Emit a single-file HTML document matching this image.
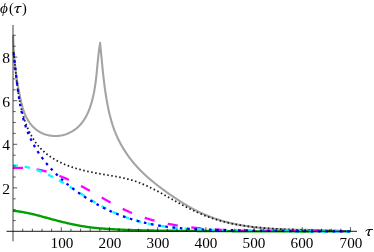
<!DOCTYPE html>
<html><head><meta charset="utf-8"><title>plot</title>
<style>
html,body{margin:0;padding:0;background:#fff;}
body{width:374px;height:252px;position:relative;overflow:hidden;font-family:"Liberation Serif",serif;color:#000;}
.xl,.yl,.t{will-change:transform;}
.xl{position:absolute;top:235.8px;width:40px;text-align:center;font-size:15.2px;line-height:14px;}
.yl{position:absolute;left:-0.4px;width:10px;text-align:right;font-size:15.6px;line-height:14px;}
.t{position:absolute;line-height:16px;white-space:nowrap;transform-origin:0 50%;}
.it{font-style:italic}
</style></head><body>
<svg width="374" height="252" viewBox="0 0 374 252" style="position:absolute;left:0;top:0;filter:blur(0.35px)">
<g fill="none" stroke-linejoin="round">
<path d="M13.19 35.50 L13.21 36.41 L13.22 37.33 L13.24 38.24 L13.27 39.15 L13.29 40.06 L13.32 40.97 L13.35 41.88 L13.38 42.78 L13.42 43.69 L13.46 44.59 L13.50 45.49 L13.54 46.40 L13.59 47.30 L13.63 48.20 L13.69 49.10 L13.74 49.99 L13.80 50.89 L13.86 51.79 L13.92 52.68 L13.98 53.58 L14.05 54.47 L14.12 55.36 L14.19 56.26 L14.26 57.15 L14.34 58.04 L14.42 58.93 L14.50 59.82 L14.59 60.71 L14.67 61.60 L14.76 62.49 L14.85 63.38 L14.95 64.27 L15.05 65.15 L15.15 66.04 L15.25 66.93 L15.35 67.82 L15.46 68.70 L15.57 69.59 L15.68 70.48 L15.79 71.36 L15.91 72.25 L16.03 73.14 L16.15 74.02 L16.27 74.91 L16.40 75.80 L16.53 76.69 L16.66 77.57 L16.79 78.46 L16.93 79.35 L17.07 80.24 L17.21 81.13 L17.35 82.02 L17.50 82.91 L17.65 83.80 L17.80 84.69 L17.95 85.58 L18.10 86.47 L18.26 87.36 L18.42 88.25 L18.58 89.15 L18.75 90.04 L18.91 90.94 L19.08 91.83 L19.25 92.73 L19.43 93.63 L19.60 94.53 L19.78 95.43 L19.96 96.33 L20.14 97.23 L20.33 98.13 L20.52 99.03 L20.71 99.93 L20.91 100.83 L21.11 101.73 L21.32 102.63 L21.54 103.53 L21.76 104.42 L21.99 105.31 L22.23 106.20 L22.48 107.08 L22.73 107.96 L23.00 108.83 L23.27 109.70 L23.56 110.57 L23.86 111.42 L24.17 112.28 L24.49 113.12 L24.83 113.96 L25.18 114.79 L25.54 115.61 L25.92 116.43 L26.32 117.23 L26.73 118.03 L27.16 118.82 L27.60 119.59 L28.06 120.36 L28.53 121.11 L29.03 121.85 L29.53 122.58 L30.06 123.30 L30.60 124.00 L31.16 124.69 L31.73 125.36 L32.32 126.02 L32.92 126.66 L33.55 127.29 L34.18 127.89 L34.84 128.48 L35.50 129.05 L36.19 129.60 L36.89 130.13 L37.61 130.64 L38.34 131.13 L39.09 131.59 L39.85 132.04 L40.63 132.46 L41.42 132.86 L42.23 133.23 L43.05 133.59 L43.88 133.92 L44.72 134.22 L45.57 134.50 L46.44 134.76 L47.31 135.00 L48.18 135.21 L49.07 135.39 L49.96 135.56 L50.85 135.69 L51.75 135.81 L52.65 135.90 L53.56 135.96 L54.46 136.00 L55.37 136.01 L56.28 136.00 L57.18 135.96 L58.09 135.90 L58.99 135.81 L59.89 135.70 L60.78 135.56 L61.67 135.39 L62.55 135.20 L63.43 134.99 L64.30 134.75 L65.17 134.49 L66.02 134.20 L66.87 133.89 L67.71 133.56 L68.54 133.20 L69.36 132.83 L70.17 132.43 L70.97 132.01 L71.76 131.58 L72.54 131.12 L73.30 130.64 L74.05 130.14 L74.79 129.63 L75.51 129.09 L76.22 128.54 L76.91 127.97 L77.59 127.39 L78.26 126.78 L78.90 126.16 L79.53 125.53 L80.14 124.88 L80.74 124.22 L81.31 123.54 L81.88 122.85 L82.42 122.14 L82.95 121.42 L83.47 120.69 L83.97 119.95 L84.45 119.20 L84.92 118.43 L85.38 117.66 L85.82 116.87 L86.25 116.08 L86.67 115.28 L87.07 114.47 L87.46 113.65 L87.84 112.83 L88.21 112.00 L88.56 111.16 L88.91 110.31 L89.24 109.47 L89.56 108.61 L89.88 107.76 L90.18 106.89 L90.47 106.03 L90.76 105.16 L91.03 104.29 L91.30 103.42 L91.56 102.55 L91.81 101.68 L92.05 100.80 L92.28 99.93 L92.51 99.05 L92.73 98.17 L92.94 97.29 L93.15 96.40 L93.34 95.52 L93.53 94.64 L93.72 93.75 L93.90 92.86 L94.07 91.97 L94.24 91.09 L94.40 90.20 L94.56 89.30 L94.71 88.41 L94.85 87.52 L94.99 86.63 L95.13 85.73 L95.26 84.84 L95.39 83.94 L95.51 83.04 L95.63 82.15 L95.75 81.25 L95.86 80.35 L95.97 79.45 L96.07 78.55 L96.18 77.65 L96.28 76.76 L96.38 75.86 L96.47 74.96 L96.57 74.06 L96.66 73.15 L96.75 72.25 L96.84 71.35 L96.93 70.45 L97.02 69.55 L97.10 68.65 L97.19 67.75 L97.27 66.85 L97.36 65.95 L97.44 65.05 L97.53 64.15 L97.61 63.26 L97.70 62.36 L97.79 61.46 L97.87 60.56 L97.96 59.66 L98.05 58.77 L98.14 57.87 L98.24 56.98 L98.33 56.08 L98.43 55.19 L98.53 54.30 L98.63 53.41 L98.74 52.51 L98.85 51.62 L98.96 50.74 L99.07 49.85 L99.19 48.96 L99.31 48.07 L99.44 47.19 L99.57 46.31 L99.71 45.42 L99.85 44.54 L99.99 43.66 L100.14 42.79 L100.06 42.74 L100.15 43.64 L100.25 44.54 L100.34 45.45 L100.43 46.35 L100.51 47.25 L100.60 48.16 L100.69 49.06 L100.78 49.97 L100.87 50.87 L100.95 51.77 L101.04 52.68 L101.13 53.58 L101.21 54.49 L101.30 55.39 L101.38 56.30 L101.47 57.20 L101.56 58.11 L101.64 59.01 L101.73 59.92 L101.82 60.82 L101.90 61.73 L101.99 62.63 L102.08 63.54 L102.17 64.45 L102.25 65.35 L102.34 66.26 L102.43 67.16 L102.53 68.07 L102.62 68.97 L102.71 69.88 L102.80 70.79 L102.90 71.69 L102.99 72.60 L103.09 73.50 L103.19 74.41 L103.29 75.32 L103.39 76.22 L103.49 77.13 L103.59 78.04 L103.69 78.94 L103.80 79.85 L103.91 80.75 L104.02 81.66 L104.13 82.57 L104.24 83.47 L104.35 84.38 L104.47 85.28 L104.59 86.19 L104.71 87.10 L104.83 88.00 L104.95 88.91 L105.08 89.81 L105.21 90.72 L105.34 91.63 L105.47 92.53 L105.61 93.44 L105.75 94.34 L105.89 95.25 L106.03 96.15 L106.18 97.06 L106.32 97.96 L106.48 98.87 L106.63 99.78 L106.79 100.68 L106.95 101.59 L107.11 102.49 L107.28 103.39 L107.44 104.30 L107.62 105.20 L107.79 106.10 L107.97 107.01 L108.16 107.91 L108.35 108.81 L108.54 109.71 L108.73 110.60 L108.94 111.50 L109.14 112.40 L109.35 113.29 L109.56 114.18 L109.78 115.07 L110.00 115.96 L110.23 116.85 L110.46 117.74 L110.70 118.62 L110.94 119.51 L111.19 120.39 L111.44 121.26 L111.70 122.14 L111.97 123.01 L112.24 123.89 L112.51 124.76 L112.80 125.62 L113.08 126.49 L113.38 127.35 L113.68 128.21 L113.99 129.06 L114.30 129.91 L114.62 130.76 L114.94 131.61 L115.28 132.45 L115.62 133.29 L115.96 134.13 L116.32 134.96 L116.68 135.79 L117.05 136.62 L117.42 137.44 L117.80 138.26 L118.19 139.08 L118.59 139.89 L118.99 140.70 L119.40 141.50 L119.81 142.30 L120.23 143.10 L120.66 143.90 L121.09 144.69 L121.53 145.47 L121.98 146.26 L122.43 147.04 L122.89 147.81 L123.36 148.58 L123.83 149.35 L124.31 150.11 L124.79 150.87 L125.28 151.63 L125.78 152.38 L126.28 153.13 L126.79 153.88 L127.30 154.62 L127.82 155.36 L128.34 156.09 L128.87 156.82 L129.41 157.54 L129.95 158.26 L130.50 158.98 L131.05 159.69 L131.61 160.40 L132.17 161.11 L132.74 161.81 L133.31 162.51 L133.89 163.20 L134.48 163.89 L135.07 164.57 L135.66 165.25 L136.26 165.93 L136.86 166.60 L137.47 167.27 L138.08 167.93 L138.70 168.59 L139.33 169.24 L139.95 169.89 L140.59 170.54 L141.22 171.18 L141.87 171.82 L142.51 172.45 L143.16 173.08 L143.82 173.70 L144.47 174.32 L145.14 174.94 L145.80 175.55 L146.47 176.16 L147.15 176.77 L147.83 177.37 L148.51 177.97 L149.19 178.56 L149.88 179.15 L150.57 179.74 L151.26 180.33 L151.96 180.91 L152.66 181.49 L153.36 182.06 L154.07 182.64 L154.78 183.21 L155.49 183.77 L156.20 184.34 L156.92 184.90 L157.64 185.46 L158.36 186.02 L159.08 186.57 L159.80 187.12 L160.53 187.67 L161.26 188.22 L161.99 188.76 L162.72 189.31 L163.45 189.85 L164.19 190.39 L164.92 190.92 L165.66 191.46 L166.40 191.99 L167.14 192.53 L167.88 193.05 L168.62 193.58 L169.36 194.11 L170.11 194.63 L170.85 195.15 L171.60 195.67 L172.35 196.19 L173.10 196.71 L173.85 197.22 L174.60 197.73 L175.36 198.23 L176.11 198.74 L176.87 199.24 L177.63 199.74 L178.39 200.24 L179.15 200.73 L179.91 201.22 L180.68 201.71 L181.45 202.19 L182.22 202.67 L182.99 203.15 L183.76 203.62 L184.53 204.09 L185.31 204.56 L186.09 205.02 L186.87 205.48 L187.65 205.94 L188.44 206.39 L189.22 206.84 L190.01 207.28 L190.80 207.72 L191.59 208.16 L192.39 208.59 L193.19 209.02 L193.98 209.44 L194.79 209.86 L195.59 210.27 L196.40 210.68 L197.20 211.09 L198.01 211.49 L198.83 211.88 L199.64 212.28 L200.46 212.66 L201.28 213.04 L202.10 213.42 L202.93 213.79 L203.76 214.16 L204.59 214.52 L205.42 214.87 L206.26 215.22 L207.10 215.57 L207.94 215.91 L208.78 216.24 L209.62 216.57 L210.47 216.90 L211.32 217.22 L212.17 217.53 L213.03 217.84 L213.88 218.15 L214.74 218.44 L215.60 218.74 L216.46 219.03 L217.33 219.31 L218.19 219.59 L219.06 219.87 L219.93 220.14 L220.80 220.40 L221.67 220.66 L222.54 220.92 L223.42 221.17 L224.29 221.42 L225.17 221.66 L226.05 221.89 L226.93 222.13 L227.81 222.35 L228.69 222.58 L229.58 222.79 L230.46 223.01 L231.35 223.22 L232.23 223.42 L233.12 223.62 L234.01 223.82 L234.90 224.01 L235.79 224.20 L236.68 224.38 L237.57 224.56 L238.46 224.73 L239.35 224.90 L240.24 225.07 L241.14 225.23 L242.03 225.39 L242.93 225.55 L243.82 225.70 L244.72 225.85 L245.62 225.99 L246.52 226.13 L247.42 226.27 L248.32 226.40 L249.22 226.53 L250.12 226.65 L251.02 226.78 L251.92 226.90 L252.82 227.01 L253.73 227.12 L254.63 227.23 L255.54 227.34 L256.44 227.44 L257.35 227.54 L258.25 227.64 L259.16 227.73 L260.07 227.83 L260.97 227.91 L261.88 228.00 L262.79 228.08 L263.70 228.16 L264.61 228.24 L265.52 228.32 L266.43 228.39 L267.34 228.46 L268.25 228.53 L269.16 228.59 L270.07 228.66 L270.99 228.72 L271.90 228.78 L272.81 228.83 L273.72 228.89 L274.64 228.94 L275.55 228.99 L276.46 229.04 L277.38 229.09 L278.29 229.13 L279.21 229.17 L280.12 229.22 L281.04 229.26 L281.95 229.29 L282.87 229.33 L283.78 229.37 L284.70 229.40 L285.62 229.43 L286.53 229.46 L287.45 229.49 L288.37 229.52 L289.28 229.55 L290.20 229.57 L291.11 229.60 L292.03 229.62 L292.95 229.65 L293.87 229.67 L294.78 229.69 L295.70 229.71 L296.62 229.73 L297.53 229.75 L298.45 229.77 L299.37 229.78 L300.28 229.80 L301.20 229.82 L302.12 229.83 L303.03 229.85 L303.95 229.86 L304.87 229.88 L305.78 229.89 L306.70 229.91 L307.61 229.92 L308.53 229.94 L309.45 229.95 L310.36 229.96 L311.28 229.98 L312.19 229.99 L313.11 230.01 L314.02 230.02 L314.94 230.04 L315.85 230.05 L316.76 230.07 L317.68 230.09 L318.59 230.10 L319.51 230.12 L320.42 230.14 L321.33 230.16 L322.24 230.17 L323.15 230.19 L324.07 230.22 L324.98 230.24 L325.89 230.26 L326.80 230.28 L327.71 230.31 L328.62 230.33 L329.53 230.36 L330.44 230.39 L331.34 230.42 L332.25 230.45 L333.16 230.48 L334.06 230.51 L334.97 230.55 L335.88 230.58 L336.78 230.62 L337.69 230.66 L338.59 230.70 L339.49 230.74 L340.40 230.78 L341.30 230.83 L342.20 230.88 L343.10 230.93 L344.00 230.98 L344.90 231.03 L345.80 231.09 L346.70 231.15 L347.60 231.21 L348.49 231.27 L349.39 231.33 L350.29 231.40" stroke="#a4a4a4" stroke-width="2.1"/>
<path d="M13.14 210.87 L13.99 210.94 L14.84 211.02 L15.68 211.10 L16.53 211.19 L17.37 211.29 L18.21 211.40 L19.05 211.51 L19.89 211.63 L20.73 211.76 L21.57 211.89 L22.41 212.03 L23.24 212.17 L24.07 212.32 L24.91 212.47 L25.74 212.63 L26.57 212.79 L27.40 212.96 L28.23 213.14 L29.06 213.31 L29.89 213.50 L30.72 213.68 L31.54 213.87 L32.37 214.07 L33.20 214.26 L34.02 214.46 L34.84 214.67 L35.67 214.87 L36.49 215.08 L37.32 215.29 L38.14 215.50 L38.96 215.72 L39.78 215.94 L40.61 216.16 L41.43 216.38 L42.25 216.60 L43.07 216.82 L43.89 217.05 L44.71 217.27 L45.53 217.50 L46.35 217.72 L47.18 217.95 L48.00 218.17 L48.82 218.40 L49.64 218.63 L50.46 218.85 L51.28 219.07 L52.10 219.30 L52.93 219.52 L53.75 219.74 L54.57 219.96 L55.39 220.18 L56.22 220.39 L57.04 220.61 L57.86 220.82 L58.69 221.03 L59.51 221.24 L60.34 221.45 L61.16 221.66 L61.99 221.86 L62.81 222.07 L63.64 222.27 L64.47 222.47 L65.29 222.66 L66.12 222.86 L66.95 223.05 L67.78 223.24 L68.61 223.43 L69.44 223.62 L70.27 223.80 L71.10 223.98 L71.93 224.16 L72.76 224.34 L73.59 224.51 L74.42 224.68 L75.25 224.85 L76.08 225.02 L76.92 225.18 L77.75 225.34 L78.58 225.50 L79.42 225.65 L80.25 225.80 L81.09 225.95 L81.92 226.09 L82.76 226.23 L83.60 226.37 L84.43 226.51 L85.27 226.64 L86.11 226.77 L86.95 226.89 L87.79 227.01 L88.63 227.13 L89.47 227.24 L90.31 227.35 L91.15 227.46 L91.99 227.56 L92.84 227.66 L93.68 227.76 L94.52 227.85 L95.37 227.94 L96.21 228.02 L97.06 228.11 L97.90 228.19 L98.75 228.26 L99.60 228.34 L100.44 228.41 L101.29 228.48 L102.14 228.54 L102.98 228.61 L103.83 228.67 L104.68 228.73 L105.53 228.79 L106.38 228.85 L107.23 228.90 L108.07 228.96 L108.92 229.01 L109.77 229.06 L110.62 229.11 L111.47 229.15 L112.32 229.20 L113.17 229.25 L114.02 229.29 L114.87 229.34 L115.72 229.38 L116.57 229.42 L117.42 229.46 L118.27 229.50 L119.12 229.54 L119.97 229.58 L120.82 229.62 L121.67 229.66 L122.52 229.69 L123.37 229.73 L124.22 229.76 L125.07 229.80 L125.92 229.83 L126.77 229.86 L127.62 229.89 L128.47 229.92 L129.32 229.95 L130.17 229.98 L131.02 230.01 L131.87 230.04 L132.72 230.06 L133.57 230.09 L134.42 230.11 L135.27 230.14 L136.12 230.16 L136.97 230.19 L137.82 230.21 L138.67 230.23 L139.52 230.25 L140.37 230.27 L141.22 230.29 L142.07 230.31 L142.92 230.33 L143.77 230.35 L144.62 230.37 L145.47 230.39 L146.32 230.41 L147.17 230.42 L148.03 230.44 L148.88 230.45 L149.73 230.47 L150.58 230.48 L151.43 230.50 L152.28 230.51 L153.13 230.53 L153.98 230.54 L154.83 230.55 L155.68 230.57 L156.53 230.58 L157.38 230.59 L158.23 230.60 L159.09 230.61 L159.94 230.62 L160.79 230.63 L161.64 230.64 L162.49 230.65 L163.34 230.66 L164.19 230.67 L165.04 230.68 L165.89 230.69 L166.74 230.70 L167.59 230.71 L168.44 230.72 L169.29 230.72 L170.15 230.73 L171.00 230.74 L171.85 230.75 L172.70 230.76 L173.55 230.76 L174.40 230.77 L175.25 230.78 L176.10 230.78 L176.95 230.79 L177.80 230.80 L178.65 230.81 L179.50 230.81 L180.35 230.82 L181.20 230.83 L182.06 230.83 L182.91 230.84 L183.76 230.85 L184.61 230.85 L185.46 230.86 L186.31 230.87 L187.16 230.87 L188.01 230.88 L188.86 230.89 L189.71 230.90 L190.56 230.90 L191.41 230.91 L192.26 230.92 L193.11 230.92 L193.96 230.93 L194.81 230.94 L195.66 230.94 L196.51 230.95 L197.36 230.96 L198.21 230.96 L199.06 230.97 L199.92 230.98 L200.77 230.98 L201.62 230.99 L202.47 231.00 L203.32 231.00 L204.17 231.01 L205.02 231.01 L205.87 231.02 L206.72 231.03 L207.57 231.03 L208.42 231.04 L209.27 231.05 L210.12 231.05 L210.97 231.06 L211.82 231.07 L212.67 231.07 L213.52 231.08 L214.37 231.08 L215.22 231.09 L216.07 231.10 L216.92 231.10 L217.77 231.11 L218.62 231.11 L219.47 231.12 L220.32 231.13 L221.17 231.13 L222.02 231.14 L222.87 231.14 L223.72 231.15 L224.57 231.15 L225.42 231.16 L226.27 231.17 L227.12 231.17 L227.97 231.18 L228.82 231.18 L229.67 231.19 L230.52 231.19 L231.37 231.20 L232.22 231.20 L233.07 231.21 L233.92 231.21 L234.77 231.22 L235.62 231.22 L236.47 231.23 L237.32 231.24 L238.17 231.24 L239.02 231.25 L239.87 231.25 L240.72 231.25 L241.57 231.26 L242.42 231.26 L243.27 231.27 L244.12 231.27 L244.97 231.28 L245.82 231.28 L246.67 231.29 L247.52 231.29 L248.37 231.30 L249.22 231.30 L250.07 231.31 L250.92 231.31 L251.77 231.31 L252.62 231.32 L253.47 231.32 L254.32 231.33 L255.17 231.33 L256.02 231.33 L256.87 231.34 L257.72 231.34 L258.57 231.35 L259.42 231.35 L260.27 231.35 L261.12 231.36 L261.97 231.36 L262.82 231.36 L263.67 231.37 L264.52 231.37 L265.37 231.37 L266.22 231.38 L267.07 231.38 L267.92 231.38 L268.77 231.39 L269.62 231.39 L270.47 231.39 L271.32 231.40 L272.17 231.40 L273.02 231.40 L273.87 231.40 L274.72 231.41 L275.57 231.41 L276.42 231.41 L277.27 231.41 L278.12 231.42 L278.97 231.42 L279.82 231.42 L280.67 231.42 L281.52 231.42 L282.37 231.43 L283.22 231.43 L284.07 231.43 L284.92 231.43 L285.77 231.43 L286.62 231.43 L287.47 231.44 L288.32 231.44 L289.17 231.44 L290.02 231.44 L290.87 231.44 L291.72 231.44 L292.57 231.44 L293.42 231.44 L294.27 231.45 L295.12 231.45 L295.97 231.45 L296.82 231.45 L297.67 231.45 L298.52 231.45 L299.37 231.45 L300.22 231.45 L301.07 231.45 L301.92 231.45 L302.77 231.45 L303.62 231.45 L304.47 231.45 L305.32 231.45 L306.17 231.45 L307.02 231.45 L307.87 231.45 L308.73 231.45 L309.58 231.45 L310.43 231.45 L311.28 231.45 L312.13 231.45 L312.98 231.44 L313.83 231.44 L314.68 231.44 L315.53 231.44 L316.38 231.44 L317.23 231.44 L318.08 231.44 L318.93 231.43 L319.78 231.43 L320.63 231.43 L321.48 231.43 L322.33 231.43 L323.18 231.43 L324.03 231.42 L324.88 231.42 L325.73 231.42 L326.58 231.42 L327.43 231.41 L328.28 231.41 L329.14 231.41 L329.99 231.40 L330.84 231.40 L331.69 231.40 L332.54 231.40 L333.39 231.39 L334.24 231.39 L335.09 231.39 L335.94 231.38 L336.79 231.38 L337.64 231.37 L338.49 231.37 L339.34 231.37 L340.19 231.36 L341.05 231.36 L341.90 231.35 L342.75 231.35 L343.60 231.34 L344.45 231.34 L345.30 231.34 L346.15 231.33 L347.00 231.33 L347.85 231.32 L348.70 231.31 L349.55 231.31 L350.41 231.30" stroke="#00a000" stroke-width="2.35"/>
<path d="M13.30 50.09 L13.38 50.79 L13.47 51.49 L13.55 52.20 L13.63 52.90 L13.71 53.61 L13.79 54.31 L13.87 55.02 L13.94 55.73 L14.02 56.44 L14.10 57.15 L14.17 57.86 L14.25 58.57 L14.32 59.28 L14.40 59.99 L14.47 60.70 L14.54 61.42 L14.62 62.13 L14.69 62.84 L14.76 63.56 L14.84 64.27 L14.91 64.99 L14.98 65.71 L15.05 66.42 L15.13 67.14 L15.20 67.86 L15.27 68.58 L15.34 69.30 L15.42 70.01 L15.49 70.73 L15.57 71.45 L15.64 72.17 L15.72 72.89 L15.79 73.61 L15.87 74.33 L15.94 75.05 L16.02 75.77 L16.10 76.49 L16.18 77.21 L16.26 77.93 L16.34 78.65 L16.42 79.37 L16.51 80.09 L16.59 80.81 L16.68 81.53 L16.76 82.25 L16.85 82.97 L16.94 83.69 L17.03 84.41 L17.12 85.13 L17.21 85.85 L17.31 86.57 L17.40 87.29 L17.50 88.01 L17.60 88.73 L17.70 89.44 L17.81 90.16 L17.91 90.88 L18.02 91.59 L18.13 92.31 L18.24 93.03 L18.35 93.74 L18.46 94.46 L18.58 95.17 L18.70 95.88 L18.82 96.60 L18.94 97.31 L19.07 98.02 L19.20 98.73 L19.33 99.44 L19.46 100.15 L19.60 100.86 L19.74 101.57 L19.88 102.27 L20.02 102.98 L20.17 103.68 L20.32 104.39 L20.47 105.09 L20.62 105.80 L20.78 106.50 L20.94 107.20 L21.11 107.90 L21.27 108.60 L21.44 109.29 L21.62 109.99 L21.79 110.69 L21.98 111.38 L22.16 112.07 L22.35 112.77 L22.54 113.46 L22.73 114.15 L22.93 114.83 L23.13 115.52 L23.34 116.21 L23.54 116.89 L23.76 117.58 L23.97 118.26 L24.19 118.94 L24.42 119.62 L24.65 120.29 L24.88 120.97 L25.12 121.64 L25.36 122.32 L25.60 122.99 L25.85 123.66 L26.11 124.32 L26.37 124.99 L26.63 125.65 L26.90 126.31 L27.17 126.97 L27.44 127.62 L27.73 128.28 L28.01 128.93 L28.30 129.58 L28.60 130.22 L28.90 130.86 L29.21 131.50 L29.52 132.14 L29.84 132.77 L30.16 133.40 L30.48 134.03 L30.82 134.65 L31.16 135.27 L31.50 135.88 L31.85 136.50 L32.20 137.11 L32.56 137.71 L32.93 138.31 L33.30 138.91 L33.68 139.50 L34.06 140.09 L34.45 140.67 L34.84 141.25 L35.25 141.83 L35.65 142.40 L36.07 142.97 L36.49 143.53 L36.91 144.09 L37.34 144.64 L37.78 145.19 L38.23 145.73 L38.68 146.26 L39.14 146.79 L39.60 147.32 L40.07 147.84 L40.55 148.35 L41.03 148.86 L41.52 149.36 L42.01 149.86 L42.51 150.34 L43.02 150.83 L43.53 151.30 L44.05 151.77 L44.58 152.24 L45.11 152.69 L45.65 153.15 L46.19 153.59 L46.74 154.03 L47.29 154.46 L47.85 154.89 L48.42 155.31 L48.99 155.73 L49.56 156.14 L50.14 156.54 L50.73 156.94 L51.32 157.33 L51.91 157.72 L52.51 158.10 L53.11 158.47 L53.72 158.84 L54.33 159.21 L54.94 159.57 L55.56 159.92 L56.19 160.27 L56.82 160.61 L57.45 160.95 L58.08 161.28 L58.72 161.61 L59.36 161.93 L60.01 162.25 L60.65 162.56 L61.31 162.87 L61.96 163.17 L62.62 163.47 L63.28 163.77 L63.94 164.05 L64.61 164.34 L65.28 164.61 L65.95 164.89 L66.62 165.16 L67.29 165.42 L67.97 165.68 L68.65 165.94 L69.33 166.19 L70.02 166.44 L70.70 166.68 L71.39 166.92 L72.08 167.15 L72.77 167.38 L73.46 167.61 L74.15 167.83 L74.84 168.05 L75.54 168.26 L76.23 168.47 L76.93 168.67 L77.63 168.88 L78.32 169.07 L79.02 169.27 L79.72 169.46 L80.42 169.64 L81.12 169.83 L81.82 170.01 L82.52 170.18 L83.22 170.36 L83.92 170.53 L84.63 170.69 L85.33 170.86 L86.03 171.02 L86.74 171.18 L87.44 171.33 L88.15 171.49 L88.85 171.64 L89.56 171.78 L90.26 171.93 L90.97 172.07 L91.67 172.22 L92.38 172.36 L93.09 172.49 L93.79 172.63 L94.50 172.77 L95.21 172.90 L95.92 173.03 L96.63 173.16 L97.33 173.29 L98.04 173.42 L98.75 173.54 L99.46 173.67 L100.17 173.80 L100.88 173.92 L101.59 174.04 L102.30 174.17 L103.01 174.29 L103.72 174.41 L104.43 174.53 L105.14 174.65 L105.85 174.77 L106.56 174.89 L107.27 175.01 L107.98 175.14 L108.69 175.26 L109.40 175.38 L110.11 175.50 L110.81 175.62 L111.52 175.75 L112.23 175.87 L112.94 176.00 L113.65 176.12 L114.36 176.25 L115.07 176.38 L115.78 176.51 L116.49 176.64 L117.20 176.77 L117.91 176.91 L118.61 177.04 L119.32 177.18 L120.03 177.32 L120.74 177.46 L121.44 177.61 L122.15 177.75 L122.85 177.90 L123.55 178.06 L124.26 178.21 L124.96 178.37 L125.66 178.54 L126.36 178.70 L127.06 178.87 L127.75 179.05 L128.45 179.22 L129.14 179.41 L129.84 179.59 L130.53 179.78 L131.22 179.98 L131.91 180.18 L132.60 180.38 L133.28 180.59 L133.97 180.81 L134.65 181.03 L135.33 181.25 L136.01 181.49 L136.68 181.72 L137.36 181.96 L138.03 182.21 L138.70 182.46 L139.38 182.72 L140.04 182.98 L140.71 183.24 L141.38 183.51 L142.04 183.79 L142.70 184.07 L143.36 184.35 L144.02 184.63 L144.68 184.92 L145.34 185.22 L145.99 185.51 L146.65 185.81 L147.30 186.12 L147.95 186.42 L148.60 186.73 L149.25 187.04 L149.90 187.36 L150.55 187.67 L151.19 187.99 L151.84 188.31 L152.48 188.64 L153.13 188.96 L153.77 189.29 L154.41 189.62 L155.05 189.95 L155.69 190.29 L156.33 190.62 L156.96 190.96 L157.60 191.29 L158.24 191.63 L158.87 191.97 L159.51 192.31 L160.14 192.66 L160.77 193.00 L161.41 193.34 L162.04 193.69 L162.67 194.04 L163.30 194.38 L163.93 194.73 L164.56 195.08 L165.19 195.43 L165.82 195.78 L166.45 196.13 L167.08 196.48 L167.71 196.83 L168.34 197.19 L168.97 197.54 L169.60 197.89 L170.23 198.24 L170.85 198.59 L171.48 198.95 L172.11 199.30 L172.74 199.65 L173.37 200.00 L174.00 200.35 L174.63 200.70 L175.26 201.05 L175.89 201.40 L176.51 201.75 L177.14 202.10 L177.77 202.45 L178.41 202.80 L179.04 203.14 L179.67 203.49 L180.30 203.83 L180.93 204.18 L181.57 204.52 L182.20 204.86 L182.83 205.20 L183.47 205.54 L184.10 205.88 L184.74 206.22 L185.38 206.55 L186.01 206.88 L186.65 207.21 L187.29 207.54 L187.93 207.87 L188.57 208.20 L189.22 208.52 L189.86 208.84 L190.50 209.16 L191.15 209.48 L191.79 209.80 L192.44 210.11 L193.09 210.42 L193.74 210.73 L194.39 211.04 L195.04 211.34 L195.70 211.65 L196.35 211.94 L197.01 212.24 L197.67 212.53 L198.32 212.83 L198.98 213.11 L199.64 213.40 L200.31 213.68 L200.97 213.96 L201.64 214.24 L202.30 214.52 L202.97 214.79 L203.64 215.06 L204.31 215.33 L204.98 215.59 L205.65 215.85 L206.32 216.11 L207.00 216.37 L207.67 216.62 L208.35 216.87 L209.02 217.12 L209.70 217.36 L210.38 217.60 L211.06 217.84 L211.74 218.08 L212.42 218.31 L213.11 218.54 L213.79 218.77 L214.48 218.99 L215.16 219.22 L215.85 219.44 L216.54 219.65 L217.23 219.86 L217.92 220.07 L218.61 220.28 L219.30 220.49 L219.99 220.69 L220.68 220.89 L221.38 221.08 L222.07 221.27 L222.77 221.46 L223.46 221.65 L224.16 221.83 L224.86 222.01 L225.55 222.19 L226.25 222.36 L226.95 222.53 L227.65 222.70 L228.35 222.87 L229.06 223.03 L229.76 223.19 L230.46 223.34 L231.17 223.49 L231.87 223.64 L232.57 223.79 L233.28 223.93 L233.99 224.07 L234.69 224.21 L235.40 224.34 L236.11 224.47 L236.82 224.60 L237.52 224.72 L238.23 224.85 L238.94 224.97 L239.65 225.08 L240.36 225.20 L241.07 225.31 L241.79 225.42 L242.50 225.53 L243.21 225.64 L243.92 225.74 L244.64 225.84 L245.35 225.94 L246.06 226.04 L246.78 226.13 L247.49 226.22 L248.21 226.32 L248.92 226.41 L249.63 226.49 L250.35 226.58 L251.07 226.66 L251.78 226.75 L252.50 226.83 L253.21 226.91 L253.93 226.98 L254.65 227.06 L255.36 227.14 L256.08 227.21 L256.80 227.28 L257.51 227.35 L258.23 227.43 L258.95 227.49 L259.67 227.56 L260.38 227.63 L261.10 227.70 L261.82 227.76 L262.54 227.83 L263.25 227.89 L263.97 227.95 L264.69 228.01 L265.41 228.07 L266.13 228.13 L266.84 228.19 L267.56 228.24 L268.28 228.30 L269.00 228.35 L269.72 228.41 L270.44 228.46 L271.15 228.51 L271.87 228.57 L272.59 228.62 L273.31 228.66 L274.03 228.71 L274.75 228.76 L275.47 228.81 L276.19 228.85 L276.91 228.90 L277.63 228.94 L278.35 228.99 L279.07 229.03 L279.79 229.07 L280.51 229.11 L281.22 229.15 L281.94 229.19 L282.66 229.23 L283.38 229.27 L284.10 229.30 L284.82 229.34 L285.54 229.38 L286.26 229.41 L286.98 229.45 L287.70 229.48 L288.42 229.51 L289.15 229.55 L289.87 229.58 L290.59 229.61 L291.31 229.64 L292.03 229.67 L292.75 229.70 L293.47 229.73 L294.19 229.76 L294.91 229.78 L295.63 229.81 L296.35 229.84 L297.07 229.86 L297.79 229.89 L298.51 229.91 L299.23 229.94 L299.95 229.96 L300.68 229.99 L301.40 230.01 L302.12 230.03 L302.84 230.06 L303.56 230.08 L304.28 230.10 L305.00 230.12 L305.72 230.14 L306.44 230.16 L307.16 230.18 L307.88 230.20 L308.61 230.22 L309.33 230.24 L310.05 230.26 L310.77 230.28 L311.49 230.30 L312.21 230.31 L312.93 230.33 L313.65 230.35 L314.37 230.37 L315.09 230.38 L315.82 230.40 L316.54 230.42 L317.26 230.43 L317.98 230.45 L318.70 230.47 L319.42 230.48 L320.14 230.50 L320.86 230.51 L321.58 230.53 L322.30 230.54 L323.03 230.56 L323.75 230.57 L324.47 230.59 L325.19 230.60 L325.91 230.62 L326.63 230.63 L327.35 230.65 L328.07 230.66 L328.79 230.68 L329.51 230.69 L330.23 230.71 L330.95 230.72 L331.67 230.74 L332.39 230.75 L333.11 230.77 L333.83 230.78 L334.56 230.80 L335.28 230.81 L336.00 230.83 L336.72 230.84 L337.44 230.86 L338.16 230.87 L338.88 230.89 L339.60 230.91 L340.32 230.92 L341.04 230.94 L341.76 230.96 L342.48 230.97 L343.20 230.99 L343.92 231.01 L344.64 231.02 L345.36 231.04 L346.07 231.06 L346.79 231.08 L347.51 231.10 L348.23 231.11 L348.95 231.13 L349.67 231.15 L350.39 231.17" stroke="#1a1a1a" stroke-width="1.75" stroke-dasharray="1.55 2.52" stroke-dashoffset="2.2"/>
<path d="M12.89 168.08 L13.62 168.03 L14.35 167.98 L15.08 167.94 L15.81 167.91 L16.53 167.89 L17.26 167.86 L17.98 167.85 L18.70 167.84 L19.42 167.83 L20.14 167.84 L20.86 167.84 L21.57 167.85 L22.29 167.87 L23.00 167.90 L23.71 167.92 L24.42 167.96 L25.13 168.00 L25.84 168.04 L26.54 168.09 L27.25 168.14 L27.95 168.20 L28.65 168.27 L29.35 168.34 L30.05 168.41 L30.75 168.49 L31.45 168.58 L32.14 168.66 L32.84 168.76 L33.53 168.86 L34.22 168.96 L34.91 169.07 L35.60 169.18 L36.29 169.30 L36.98 169.42 L37.66 169.55 L38.35 169.68 L39.03 169.81 L39.71 169.95 L40.39 170.09 L41.07 170.24 L41.75 170.39 L42.43 170.55 L43.10 170.71 L43.78 170.88 L44.45 171.04 L45.12 171.22 L45.79 171.39 L46.46 171.57 L47.13 171.76 L47.80 171.95 L48.47 172.14 L49.13 172.34 L49.80 172.54 L50.46 172.74 L51.12 172.95 L51.78 173.16 L52.44 173.37 L53.10 173.59 L53.76 173.81 L54.42 174.04 L55.07 174.26 L55.73 174.50 L56.38 174.73 L57.03 174.97 L57.68 175.21 L58.34 175.45 L58.98 175.70 L59.63 175.95 L60.28 176.21 L60.93 176.46 L61.57 176.72 L62.22 176.99 L62.86 177.25 L63.50 177.52 L64.14 177.79 L64.79 178.07 L65.42 178.35 L66.06 178.63 L66.70 178.91 L67.34 179.19 L67.97 179.48 L68.61 179.77 L69.24 180.06 L69.88 180.36 L70.51 180.66 L71.14 180.96 L71.77 181.26 L72.40 181.56 L73.03 181.87 L73.66 182.18 L74.28 182.49 L74.91 182.80 L75.54 183.12 L76.16 183.43 L76.79 183.75 L77.41 184.07 L78.03 184.39 L78.66 184.72 L79.28 185.04 L79.90 185.37 L80.52 185.70 L81.14 186.03 L81.76 186.36 L82.38 186.69 L83.00 187.03 L83.61 187.36 L84.23 187.70 L84.85 188.04 L85.47 188.38 L86.08 188.72 L86.70 189.06 L87.32 189.40 L87.93 189.74 L88.55 190.09 L89.16 190.43 L89.77 190.77 L90.39 191.12 L91.00 191.47 L91.62 191.81 L92.23 192.16 L92.84 192.51 L93.46 192.86 L94.07 193.21 L94.68 193.56 L95.30 193.91 L95.91 194.26 L96.52 194.61 L97.13 194.96 L97.75 195.31 L98.36 195.66 L98.97 196.01 L99.58 196.35 L100.20 196.70 L100.81 197.05 L101.42 197.40 L102.04 197.75 L102.65 198.10 L103.26 198.45 L103.88 198.80 L104.49 199.14 L105.10 199.49 L105.72 199.83 L106.33 200.18 L106.95 200.52 L107.56 200.87 L108.18 201.21 L108.79 201.55 L109.41 201.89 L110.03 202.23 L110.64 202.57 L111.26 202.91 L111.88 203.24 L112.49 203.58 L113.11 203.91 L113.73 204.25 L114.35 204.58 L114.97 204.91 L115.59 205.23 L116.21 205.56 L116.83 205.89 L117.46 206.21 L118.08 206.53 L118.70 206.85 L119.33 207.17 L119.95 207.48 L120.58 207.80 L121.20 208.11 L121.83 208.42 L122.46 208.73 L123.09 209.04 L123.71 209.34 L124.35 209.64 L124.98 209.94 L125.61 210.24 L126.24 210.53 L126.87 210.82 L127.51 211.11 L128.14 211.40 L128.78 211.68 L129.42 211.97 L130.06 212.24 L130.69 212.52 L131.34 212.79 L131.98 213.06 L132.62 213.33 L133.26 213.60 L133.91 213.86 L134.55 214.12 L135.20 214.37 L135.85 214.63 L136.50 214.88 L137.15 215.12 L137.80 215.37 L138.45 215.61 L139.10 215.85 L139.75 216.09 L140.41 216.32 L141.06 216.55 L141.72 216.78 L142.38 217.01 L143.03 217.23 L143.69 217.45 L144.35 217.67 L145.01 217.88 L145.68 218.09 L146.34 218.30 L147.00 218.51 L147.67 218.72 L148.33 218.92 L149.00 219.12 L149.66 219.32 L150.33 219.51 L151.00 219.71 L151.67 219.90 L152.34 220.08 L153.01 220.27 L153.68 220.45 L154.35 220.63 L155.03 220.81 L155.70 220.99 L156.37 221.16 L157.05 221.33 L157.72 221.50 L158.40 221.67 L159.08 221.84 L159.76 222.00 L160.43 222.16 L161.11 222.32 L161.79 222.47 L162.47 222.63 L163.15 222.78 L163.84 222.93 L164.52 223.08 L165.20 223.23 L165.88 223.37 L166.57 223.51 L167.25 223.65 L167.94 223.79 L168.62 223.92 L169.31 224.06 L169.99 224.19 L170.68 224.32 L171.37 224.45 L172.06 224.58 L172.75 224.70 L173.43 224.82 L174.12 224.94 L174.81 225.06 L175.50 225.18 L176.19 225.30 L176.89 225.41 L177.58 225.52 L178.27 225.63 L178.96 225.74 L179.65 225.85 L180.35 225.95 L181.04 226.06 L181.73 226.16 L182.43 226.26 L183.12 226.36 L183.82 226.46 L184.51 226.55 L185.21 226.65 L185.90 226.74 L186.60 226.83 L187.30 226.92 L187.99 227.01 L188.69 227.10 L189.39 227.18 L190.08 227.27 L190.78 227.35 L191.48 227.43 L192.18 227.51 L192.87 227.59 L193.57 227.67 L194.27 227.74 L194.97 227.82 L195.67 227.89 L196.37 227.96 L197.07 228.03 L197.77 228.10 L198.46 228.17 L199.16 228.24 L199.86 228.31 L200.56 228.37 L201.26 228.44 L201.96 228.50 L202.66 228.56 L203.36 228.62 L204.06 228.68 L204.76 228.74 L205.46 228.80 L206.16 228.86 L206.86 228.91 L207.56 228.97 L208.26 229.02 L208.96 229.07 L209.66 229.13 L210.36 229.18 L211.06 229.23 L211.76 229.28 L212.46 229.32 L213.16 229.37 L213.86 229.42 L214.56 229.46 L215.26 229.51 L215.96 229.55 L216.66 229.59 L217.36 229.64 L218.06 229.68 L218.76 229.72 L219.46 229.76 L220.16 229.80 L220.86 229.83 L221.56 229.87 L222.26 229.91 L222.96 229.94 L223.66 229.98 L224.36 230.01 L225.06 230.04 L225.76 230.08 L226.46 230.11 L227.16 230.14 L227.86 230.17 L228.56 230.20 L229.26 230.23 L229.96 230.26 L230.66 230.28 L231.36 230.31 L232.06 230.33 L232.77 230.36 L233.47 230.38 L234.17 230.41 L234.87 230.43 L235.57 230.45 L236.27 230.48 L236.97 230.50 L237.67 230.52 L238.37 230.54 L239.07 230.56 L239.77 230.57 L240.47 230.59 L241.17 230.61 L241.87 230.63 L242.57 230.64 L243.27 230.66 L243.97 230.67 L244.67 230.69 L245.37 230.70 L246.07 230.72 L246.77 230.73 L247.47 230.74 L248.17 230.76 L248.87 230.77 L249.57 230.78 L250.27 230.79 L250.97 230.80 L251.68 230.81 L252.38 230.82 L253.08 230.83 L253.78 230.84 L254.48 230.84 L255.18 230.85 L255.88 230.86 L256.58 230.86 L257.28 230.87 L257.98 230.88 L258.68 230.88 L259.38 230.89 L260.08 230.89 L260.78 230.90 L261.48 230.90 L262.18 230.90 L262.88 230.91 L263.58 230.91 L264.28 230.91 L264.98 230.92 L265.68 230.92 L266.38 230.92 L267.08 230.92 L267.79 230.92 L268.49 230.92 L269.19 230.93 L269.89 230.93 L270.59 230.93 L271.29 230.93 L271.99 230.93 L272.69 230.93 L273.39 230.92 L274.09 230.92 L274.79 230.92 L275.49 230.92 L276.19 230.92 L276.89 230.92 L277.59 230.92 L278.29 230.92 L278.99 230.91 L279.69 230.91 L280.39 230.91 L281.09 230.91 L281.79 230.90 L282.49 230.90 L283.19 230.90 L283.90 230.90 L284.60 230.89 L285.30 230.89 L286.00 230.89 L286.70 230.89 L287.40 230.88 L288.10 230.88 L288.80 230.88 L289.50 230.87 L290.20 230.87 L290.90 230.87 L291.60 230.86 L292.30 230.86 L293.00 230.86 L293.70 230.85 L294.40 230.85 L295.10 230.85 L295.80 230.85 L296.50 230.84 L297.20 230.84 L297.90 230.84 L298.60 230.83 L299.30 230.83 L300.00 230.83 L300.70 230.83 L301.40 230.82 L302.10 230.82 L302.80 230.82 L303.50 230.82 L304.20 230.82 L304.90 230.82 L305.60 230.81 L306.30 230.81 L307.00 230.81 L307.70 230.81 L308.40 230.81 L309.10 230.81 L309.80 230.81 L310.50 230.81 L311.20 230.81 L311.90 230.81 L312.61 230.81 L313.31 230.81 L314.01 230.81 L314.71 230.82 L315.41 230.82 L316.11 230.82 L316.81 230.82 L317.51 230.82 L318.21 230.83 L318.90 230.83 L319.60 230.83 L320.30 230.84 L321.00 230.84 L321.70 230.85 L322.40 230.85 L323.10 230.86 L323.80 230.86 L324.50 230.87 L325.20 230.88 L325.90 230.88 L326.60 230.89 L327.30 230.90 L328.00 230.91 L328.70 230.92 L329.40 230.93 L330.10 230.94 L330.80 230.95 L331.50 230.96 L332.20 230.97 L332.90 230.98 L333.60 230.99 L334.30 231.00 L335.00 231.02 L335.70 231.03 L336.40 231.05 L337.10 231.06 L337.80 231.08 L338.50 231.09 L339.20 231.11 L339.90 231.12 L340.60 231.14 L341.30 231.16 L341.99 231.18 L342.69 231.20 L343.39 231.22 L344.09 231.24 L344.79 231.26 L345.49 231.28 L346.19 231.30 L346.89 231.33 L347.59 231.35 L348.29 231.37 L348.99 231.40 L349.69 231.42 L350.39 231.45" stroke="#ff00ff" stroke-width="2.3" stroke-dasharray="10.2 13.6"/>
<path d="M13.04 165.32 L13.77 165.35 L14.49 165.39 L15.22 165.44 L15.94 165.49 L16.66 165.55 L17.38 165.62 L18.09 165.70 L18.80 165.78 L19.51 165.87 L20.22 165.96 L20.92 166.06 L21.63 166.17 L22.33 166.28 L23.03 166.40 L23.72 166.53 L24.41 166.66 L25.11 166.79 L25.79 166.94 L26.48 167.09 L27.17 167.24 L27.85 167.40 L28.53 167.57 L29.21 167.74 L29.89 167.92 L30.56 168.10 L31.23 168.29 L31.90 168.48 L32.57 168.68 L33.24 168.88 L33.90 169.09 L34.57 169.30 L35.23 169.52 L35.89 169.74 L36.55 169.97 L37.20 170.20 L37.86 170.44 L38.51 170.68 L39.16 170.92 L39.81 171.17 L40.46 171.42 L41.10 171.68 L41.75 171.94 L42.39 172.21 L43.03 172.48 L43.67 172.75 L44.31 173.03 L44.95 173.31 L45.59 173.59 L46.22 173.88 L46.86 174.17 L47.49 174.46 L48.12 174.76 L48.75 175.06 L49.38 175.36 L50.00 175.67 L50.63 175.98 L51.26 176.30 L51.88 176.61 L52.50 176.93 L53.13 177.25 L53.75 177.58 L54.37 177.90 L54.98 178.23 L55.60 178.56 L56.22 178.90 L56.84 179.23 L57.45 179.57 L58.07 179.91 L58.68 180.26 L59.29 180.60 L59.90 180.95 L60.52 181.30 L61.13 181.65 L61.74 182.00 L62.35 182.35 L62.96 182.71 L63.56 183.06 L64.17 183.42 L64.78 183.78 L65.39 184.14 L65.99 184.50 L66.60 184.87 L67.20 185.23 L67.81 185.60 L68.41 185.96 L69.02 186.33 L69.62 186.70 L70.22 187.07 L70.83 187.44 L71.43 187.81 L72.03 188.18 L72.63 188.56 L73.24 188.93 L73.84 189.30 L74.44 189.68 L75.04 190.05 L75.64 190.43 L76.24 190.80 L76.84 191.18 L77.45 191.55 L78.05 191.93 L78.65 192.31 L79.25 192.68 L79.85 193.06 L80.45 193.43 L81.05 193.81 L81.65 194.19 L82.25 194.56 L82.85 194.94 L83.46 195.31 L84.06 195.69 L84.66 196.06 L85.26 196.44 L85.86 196.81 L86.46 197.18 L87.07 197.56 L87.67 197.93 L88.27 198.30 L88.88 198.67 L89.48 199.04 L90.08 199.41 L90.69 199.77 L91.29 200.14 L91.90 200.51 L92.50 200.87 L93.11 201.23 L93.72 201.60 L94.32 201.96 L94.93 202.32 L95.54 202.68 L96.15 203.03 L96.76 203.39 L97.37 203.74 L97.98 204.09 L98.59 204.44 L99.20 204.79 L99.81 205.14 L100.43 205.49 L101.04 205.83 L101.66 206.17 L102.27 206.51 L102.89 206.85 L103.51 207.18 L104.12 207.52 L104.74 207.85 L105.36 208.18 L105.98 208.51 L106.60 208.83 L107.23 209.15 L107.85 209.47 L108.47 209.79 L109.10 210.11 L109.73 210.42 L110.35 210.73 L110.98 211.03 L111.61 211.34 L112.24 211.64 L112.88 211.94 L113.51 212.23 L114.14 212.53 L114.78 212.82 L115.41 213.10 L116.05 213.39 L116.69 213.67 L117.33 213.95 L117.97 214.22 L118.62 214.49 L119.26 214.76 L119.91 215.02 L120.55 215.28 L121.20 215.54 L121.85 215.80 L122.50 216.05 L123.15 216.30 L123.81 216.54 L124.46 216.79 L125.11 217.03 L125.77 217.26 L126.43 217.50 L127.09 217.73 L127.75 217.95 L128.41 218.18 L129.07 218.40 L129.73 218.62 L130.39 218.84 L131.06 219.05 L131.72 219.26 L132.39 219.47 L133.06 219.67 L133.73 219.88 L134.40 220.08 L135.07 220.27 L135.74 220.47 L136.41 220.66 L137.08 220.85 L137.76 221.03 L138.43 221.22 L139.11 221.40 L139.79 221.58 L140.46 221.75 L141.14 221.92 L141.82 222.10 L142.50 222.26 L143.18 222.43 L143.86 222.59 L144.55 222.75 L145.23 222.91 L145.91 223.07 L146.60 223.22 L147.28 223.37 L147.97 223.52 L148.66 223.67 L149.34 223.81 L150.03 223.96 L150.72 224.10 L151.41 224.23 L152.10 224.37 L152.79 224.50 L153.48 224.63 L154.17 224.76 L154.86 224.89 L155.56 225.01 L156.25 225.14 L156.94 225.26 L157.64 225.38 L158.33 225.49 L159.03 225.61 L159.72 225.72 L160.42 225.83 L161.12 225.94 L161.81 226.04 L162.51 226.15 L163.21 226.25 L163.91 226.35 L164.60 226.45 L165.30 226.55 L166.00 226.64 L166.70 226.74 L167.40 226.83 L168.10 226.92 L168.80 227.01 L169.50 227.09 L170.20 227.18 L170.91 227.26 L171.61 227.34 L172.31 227.42 L173.01 227.50 L173.71 227.58 L174.42 227.65 L175.12 227.73 L175.82 227.80 L176.52 227.87 L177.23 227.94 L177.93 228.01 L178.63 228.07 L179.34 228.14 L180.04 228.20 L180.75 228.26 L181.45 228.32 L182.15 228.38 L182.86 228.44 L183.56 228.49 L184.26 228.55 L184.97 228.60 L185.67 228.66 L186.38 228.71 L187.08 228.76 L187.78 228.81 L188.49 228.85 L189.19 228.90 L189.90 228.95 L190.60 228.99 L191.31 229.03 L192.01 229.08 L192.72 229.12 L193.42 229.16 L194.12 229.19 L194.83 229.23 L195.53 229.27 L196.24 229.30 L196.94 229.34 L197.65 229.37 L198.35 229.41 L199.06 229.44 L199.76 229.47 L200.47 229.50 L201.17 229.53 L201.88 229.56 L202.58 229.58 L203.29 229.61 L203.99 229.63 L204.70 229.66 L205.40 229.68 L206.11 229.71 L206.81 229.73 L207.52 229.75 L208.22 229.77 L208.93 229.79 L209.63 229.81 L210.34 229.83 L211.05 229.85 L211.75 229.87 L212.46 229.89 L213.16 229.90 L213.87 229.92 L214.57 229.94 L215.28 229.95 L215.98 229.97 L216.69 229.98 L217.39 229.99 L218.10 230.01 L218.80 230.02 L219.51 230.03 L220.21 230.04 L220.92 230.06 L221.62 230.07 L222.33 230.08 L223.03 230.09 L223.74 230.10 L224.44 230.11 L225.15 230.12 L225.85 230.13 L226.56 230.14 L227.26 230.15 L227.97 230.15 L228.67 230.16 L229.38 230.17 L230.08 230.18 L230.79 230.19 L231.49 230.20 L232.20 230.20 L232.90 230.21 L233.61 230.22 L234.31 230.23 L235.02 230.23 L235.72 230.24 L236.42 230.25 L237.13 230.26 L237.83 230.27 L238.54 230.27 L239.24 230.28 L239.95 230.29 L240.65 230.30 L241.35 230.31 L242.06 230.31 L242.76 230.32 L243.47 230.33 L244.17 230.34 L244.87 230.35 L245.58 230.36 L246.28 230.37 L246.98 230.37 L247.69 230.38 L248.39 230.39 L249.10 230.40 L249.80 230.41 L250.50 230.42 L251.21 230.43 L251.91 230.44 L252.61 230.45 L253.32 230.46 L254.02 230.47 L254.72 230.48 L255.43 230.49 L256.13 230.50 L256.83 230.51 L257.53 230.52 L258.24 230.53 L258.94 230.54 L259.64 230.55 L260.35 230.56 L261.05 230.57 L261.75 230.58 L262.46 230.59 L263.16 230.60 L263.86 230.61 L264.56 230.62 L265.27 230.63 L265.97 230.64 L266.67 230.65 L267.37 230.66 L268.08 230.67 L268.78 230.68 L269.48 230.69 L270.18 230.71 L270.89 230.72 L271.59 230.73 L272.29 230.74 L273.00 230.75 L273.70 230.76 L274.40 230.77 L275.10 230.78 L275.81 230.79 L276.51 230.80 L277.21 230.81 L277.91 230.82 L278.62 230.83 L279.32 230.84 L280.02 230.85 L280.72 230.86 L281.42 230.87 L282.13 230.88 L282.83 230.89 L283.53 230.90 L284.23 230.91 L284.94 230.92 L285.64 230.93 L286.34 230.94 L287.04 230.95 L287.75 230.96 L288.45 230.97 L289.15 230.98 L289.85 230.99 L290.56 231.00 L291.26 231.01 L291.96 231.02 L292.67 231.03 L293.37 231.04 L294.07 231.05 L294.77 231.06 L295.48 231.07 L296.18 231.08 L296.88 231.09 L297.58 231.10 L298.29 231.10 L298.99 231.11 L299.69 231.12 L300.39 231.13 L301.10 231.14 L301.80 231.15 L302.50 231.15 L303.21 231.16 L303.91 231.17 L304.61 231.18 L305.32 231.19 L306.02 231.19 L306.72 231.20 L307.42 231.21 L308.13 231.22 L308.83 231.22 L309.53 231.23 L310.24 231.24 L310.94 231.24 L311.64 231.25 L312.35 231.25 L313.05 231.26 L313.75 231.27 L314.46 231.27 L315.16 231.28 L315.86 231.28 L316.57 231.29 L317.27 231.29 L317.98 231.30 L318.68 231.30 L319.38 231.31 L320.09 231.31 L320.79 231.32 L321.50 231.32 L322.20 231.33 L322.90 231.33 L323.61 231.33 L324.31 231.34 L325.02 231.34 L325.72 231.34 L326.42 231.35 L327.13 231.35 L327.83 231.35 L328.54 231.35 L329.24 231.35 L329.95 231.36 L330.65 231.36 L331.36 231.36 L332.06 231.36 L332.77 231.36 L333.47 231.36 L334.18 231.36 L334.88 231.36 L335.59 231.36 L336.29 231.36 L337.00 231.36 L337.70 231.36 L338.41 231.36 L339.12 231.36 L339.82 231.36 L340.53 231.36 L341.23 231.35 L341.94 231.35 L342.65 231.35 L343.35 231.35 L344.06 231.34 L344.76 231.34 L345.47 231.34 L346.18 231.33 L346.88 231.33 L347.59 231.32 L348.30 231.32 L349.00 231.31 L349.71 231.31 L350.42 231.30" stroke="#00ffff" stroke-width="2.3" stroke-dasharray="5.6 6.8" stroke-dashoffset="0.7"/>
<path d="M13.60 53.23 L13.69 53.94 L13.78 54.66 L13.86 55.37 L13.95 56.08 L14.03 56.80 L14.12 57.51 L14.20 58.23 L14.28 58.94 L14.37 59.66 L14.45 60.38 L14.53 61.09 L14.61 61.81 L14.69 62.53 L14.77 63.25 L14.85 63.97 L14.93 64.69 L15.01 65.41 L15.09 66.14 L15.17 66.86 L15.24 67.58 L15.32 68.31 L15.40 69.03 L15.48 69.76 L15.56 70.48 L15.64 71.21 L15.72 71.93 L15.80 72.66 L15.88 73.39 L15.96 74.12 L16.04 74.84 L16.12 75.57 L16.20 76.30 L16.28 77.03 L16.36 77.76 L16.45 78.49 L16.53 79.22 L16.61 79.95 L16.70 80.68 L16.79 81.42 L16.87 82.15 L16.96 82.88 L17.05 83.61 L17.14 84.35 L17.23 85.08 L17.32 85.81 L17.41 86.55 L17.50 87.28 L17.60 88.02 L17.69 88.75 L17.79 89.49 L17.89 90.22 L17.99 90.96 L18.09 91.70 L18.19 92.43 L18.30 93.17 L18.40 93.91 L18.51 94.64 L18.62 95.38 L18.73 96.12 L18.84 96.85 L18.96 97.59 L19.07 98.32 L19.19 99.06 L19.31 99.80 L19.43 100.53 L19.56 101.27 L19.68 102.00 L19.81 102.74 L19.94 103.47 L20.08 104.20 L20.21 104.94 L20.35 105.67 L20.49 106.40 L20.63 107.13 L20.78 107.86 L20.93 108.59 L21.08 109.32 L21.23 110.05 L21.39 110.77 L21.55 111.50 L21.71 112.22 L21.87 112.95 L22.04 113.67 L22.21 114.39 L22.39 115.11 L22.56 115.83 L22.75 116.55 L22.93 117.27 L23.12 117.98 L23.31 118.70 L23.50 119.41 L23.70 120.12 L23.90 120.83 L24.10 121.54 L24.31 122.24 L24.53 122.95 L24.74 123.65 L24.96 124.35 L25.18 125.05 L25.41 125.75 L25.64 126.45 L25.88 127.14 L26.12 127.84 L26.36 128.53 L26.61 129.22 L26.86 129.90 L27.12 130.59 L27.38 131.27 L27.65 131.95 L27.91 132.63 L28.19 133.30 L28.47 133.98 L28.75 134.65 L29.04 135.32 L29.33 135.98 L29.63 136.65 L29.93 137.31 L30.23 137.97 L30.54 138.63 L30.86 139.28 L31.18 139.93 L31.50 140.59 L31.83 141.23 L32.16 141.88 L32.49 142.52 L32.83 143.16 L33.17 143.80 L33.52 144.44 L33.87 145.08 L34.23 145.71 L34.59 146.34 L34.95 146.97 L35.32 147.59 L35.69 148.21 L36.07 148.84 L36.45 149.45 L36.83 150.07 L37.22 150.68 L37.61 151.30 L38.00 151.91 L38.40 152.51 L38.80 153.12 L39.21 153.72 L39.62 154.32 L40.03 154.92 L40.44 155.51 L40.86 156.11 L41.29 156.70 L41.71 157.29 L42.15 157.87 L42.58 158.46 L43.02 159.04 L43.46 159.62 L43.90 160.20 L44.35 160.77 L44.80 161.35 L45.25 161.92 L45.71 162.49 L46.17 163.05 L46.64 163.61 L47.10 164.18 L47.57 164.74 L48.05 165.29 L48.52 165.85 L49.00 166.40 L49.48 166.95 L49.97 167.50 L50.46 168.04 L50.95 168.58 L51.44 169.13 L51.94 169.66 L52.44 170.20 L52.94 170.73 L53.45 171.27 L53.96 171.80 L54.47 172.32 L54.98 172.85 L55.50 173.37 L56.02 173.89 L56.54 174.41 L57.07 174.92 L57.59 175.44 L58.12 175.95 L58.66 176.46 L59.19 176.96 L59.73 177.47 L60.27 177.97 L60.81 178.47 L61.36 178.96 L61.90 179.46 L62.45 179.95 L63.00 180.44 L63.56 180.93 L64.11 181.42 L64.67 181.90 L65.23 182.38 L65.80 182.86 L66.36 183.33 L66.93 183.81 L67.50 184.28 L68.07 184.75 L68.64 185.22 L69.22 185.68 L69.80 186.15 L70.38 186.61 L70.96 187.06 L71.54 187.52 L72.13 187.97 L72.71 188.42 L73.30 188.87 L73.89 189.32 L74.49 189.76 L75.08 190.21 L75.68 190.64 L76.27 191.08 L76.87 191.52 L77.47 191.95 L78.08 192.38 L78.68 192.81 L79.29 193.23 L79.89 193.66 L80.50 194.08 L81.11 194.50 L81.72 194.91 L82.34 195.33 L82.95 195.74 L83.57 196.15 L84.18 196.56 L84.80 196.96 L85.42 197.36 L86.04 197.76 L86.67 198.16 L87.29 198.56 L87.91 198.95 L88.54 199.34 L89.17 199.73 L89.80 200.12 L90.43 200.50 L91.06 200.88 L91.69 201.26 L92.32 201.64 L92.96 202.01 L93.59 202.38 L94.23 202.75 L94.87 203.12 L95.51 203.48 L96.15 203.85 L96.79 204.21 L97.43 204.56 L98.08 204.92 L98.72 205.27 L99.37 205.62 L100.02 205.97 L100.67 206.31 L101.32 206.65 L101.97 206.99 L102.62 207.33 L103.27 207.66 L103.93 207.99 L104.59 208.32 L105.24 208.65 L105.90 208.97 L106.56 209.29 L107.22 209.61 L107.88 209.92 L108.55 210.24 L109.21 210.55 L109.88 210.85 L110.54 211.16 L111.21 211.46 L111.88 211.76 L112.55 212.06 L113.22 212.35 L113.89 212.64 L114.56 212.93 L115.24 213.22 L115.91 213.50 L116.59 213.78 L117.27 214.06 L117.94 214.33 L118.62 214.60 L119.30 214.87 L119.99 215.14 L120.67 215.40 L121.35 215.66 L122.04 215.92 L122.72 216.17 L123.41 216.42 L124.10 216.67 L124.79 216.91 L125.48 217.16 L126.17 217.40 L126.86 217.63 L127.55 217.87 L128.25 218.10 L128.94 218.33 L129.64 218.55 L130.34 218.78 L131.03 219.00 L131.73 219.21 L132.43 219.43 L133.13 219.64 L133.83 219.85 L134.54 220.05 L135.24 220.26 L135.94 220.46 L136.65 220.66 L137.35 220.85 L138.06 221.04 L138.77 221.23 L139.48 221.42 L140.18 221.61 L140.89 221.79 L141.60 221.97 L142.32 222.15 L143.03 222.32 L143.74 222.49 L144.45 222.66 L145.17 222.83 L145.88 222.99 L146.59 223.16 L147.31 223.32 L148.03 223.47 L148.74 223.63 L149.46 223.78 L150.18 223.93 L150.90 224.08 L151.62 224.22 L152.33 224.36 L153.05 224.50 L153.78 224.64 L154.50 224.78 L155.22 224.91 L155.94 225.04 L156.66 225.17 L157.38 225.30 L158.11 225.42 L158.83 225.54 L159.56 225.66 L160.28 225.78 L161.00 225.89 L161.73 226.01 L162.46 226.12 L163.18 226.23 L163.91 226.33 L164.63 226.44 L165.36 226.54 L166.09 226.64 L166.81 226.74 L167.54 226.83 L168.27 226.93 L169.00 227.02 L169.73 227.11 L170.46 227.19 L171.18 227.28 L171.91 227.36 L172.64 227.45 L173.37 227.53 L174.10 227.60 L174.83 227.68 L175.56 227.75 L176.29 227.83 L177.02 227.90 L177.75 227.97 L178.49 228.04 L179.22 228.10 L179.95 228.17 L180.68 228.23 L181.41 228.29 L182.14 228.35 L182.88 228.41 L183.61 228.46 L184.34 228.52 L185.07 228.57 L185.81 228.63 L186.54 228.68 L187.27 228.73 L188.01 228.77 L188.74 228.82 L189.47 228.87 L190.21 228.91 L190.94 228.95 L191.68 229.00 L192.41 229.04 L193.15 229.07 L193.88 229.11 L194.61 229.15 L195.35 229.19 L196.08 229.22 L196.82 229.26 L197.55 229.29 L198.29 229.32 L199.02 229.35 L199.76 229.38 L200.50 229.41 L201.23 229.44 L201.97 229.47 L202.70 229.49 L203.44 229.52 L204.17 229.54 L204.91 229.57 L205.65 229.59 L206.38 229.61 L207.12 229.64 L207.85 229.66 L208.59 229.68 L209.33 229.70 L210.06 229.72 L210.80 229.74 L211.53 229.76 L212.27 229.78 L213.01 229.79 L213.74 229.81 L214.48 229.83 L215.22 229.84 L215.95 229.86 L216.69 229.88 L217.43 229.89 L218.16 229.91 L218.90 229.92 L219.63 229.94 L220.37 229.95 L221.11 229.97 L221.84 229.98 L222.58 229.99 L223.31 230.01 L224.05 230.02 L224.79 230.04 L225.52 230.05 L226.26 230.06 L226.99 230.08 L227.73 230.09 L228.47 230.10 L229.20 230.12 L229.94 230.13 L230.67 230.15 L231.41 230.16 L232.14 230.17 L232.88 230.19 L233.61 230.20 L234.35 230.21 L235.08 230.23 L235.82 230.24 L236.55 230.25 L237.29 230.27 L238.02 230.28 L238.76 230.29 L239.49 230.31 L240.23 230.32 L240.96 230.33 L241.70 230.35 L242.43 230.36 L243.17 230.37 L243.90 230.39 L244.64 230.40 L245.37 230.41 L246.11 230.43 L246.84 230.44 L247.58 230.45 L248.31 230.47 L249.04 230.48 L249.78 230.49 L250.51 230.50 L251.25 230.52 L251.98 230.53 L252.72 230.54 L253.45 230.55 L254.19 230.57 L254.92 230.58 L255.65 230.59 L256.39 230.60 L257.12 230.62 L257.86 230.63 L258.59 230.64 L259.32 230.65 L260.06 230.66 L260.79 230.68 L261.53 230.69 L262.26 230.70 L262.99 230.71 L263.73 230.72 L264.46 230.73 L265.20 230.75 L265.93 230.76 L266.66 230.77 L267.40 230.78 L268.13 230.79 L268.87 230.80 L269.60 230.81 L270.33 230.82 L271.07 230.83 L271.80 230.85 L272.53 230.86 L273.27 230.87 L274.00 230.88 L274.74 230.89 L275.47 230.90 L276.20 230.91 L276.94 230.92 L277.67 230.93 L278.40 230.94 L279.14 230.95 L279.87 230.96 L280.61 230.97 L281.34 230.98 L282.07 230.99 L282.81 231.00 L283.54 231.01 L284.27 231.01 L285.01 231.02 L285.74 231.03 L286.48 231.04 L287.21 231.05 L287.94 231.06 L288.68 231.07 L289.41 231.08 L290.14 231.08 L290.88 231.09 L291.61 231.10 L292.35 231.11 L293.08 231.12 L293.81 231.12 L294.55 231.13 L295.28 231.14 L296.01 231.15 L296.75 231.15 L297.48 231.16 L298.22 231.17 L298.95 231.17 L299.68 231.18 L300.42 231.19 L301.15 231.19 L301.89 231.20 L302.62 231.21 L303.35 231.21 L304.09 231.22 L304.82 231.22 L305.56 231.23 L306.29 231.24 L307.03 231.24 L307.76 231.25 L308.49 231.25 L309.23 231.26 L309.96 231.26 L310.70 231.27 L311.43 231.27 L312.17 231.27 L312.90 231.28 L313.63 231.28 L314.37 231.29 L315.10 231.29 L315.84 231.29 L316.57 231.30 L317.31 231.30 L318.04 231.30 L318.78 231.31 L319.51 231.31 L320.25 231.31 L320.98 231.32 L321.72 231.32 L322.45 231.32 L323.19 231.32 L323.92 231.32 L324.66 231.33 L325.39 231.33 L326.13 231.33 L326.86 231.33 L327.60 231.33 L328.33 231.33 L329.07 231.33 L329.80 231.33 L330.54 231.33 L331.27 231.33 L332.01 231.33 L332.74 231.33 L333.48 231.33 L334.22 231.33 L334.95 231.33 L335.69 231.33 L336.42 231.33 L337.16 231.33 L337.89 231.33 L338.63 231.33 L339.37 231.33 L340.10 231.32 L340.84 231.32 L341.58 231.32 L342.31 231.32 L343.05 231.31 L343.78 231.31 L344.52 231.31 L345.26 231.30 L345.99 231.30 L346.73 231.30 L347.47 231.29 L348.20 231.29 L348.94 231.28 L349.68 231.28 L350.42 231.28" stroke="#0000ff" stroke-width="2.25" stroke-dasharray="2.6 4.68" stroke-dashoffset="0.1"/>
</g>
<g stroke="#000" stroke-width="0.9" fill="none">
<path d="M6.5 231.30 H357"/>
<path d="M13.00 25 V241.3" stroke-width="0.75"/>
<path d="M22.74 231.30 v-2.6 M32.38 231.30 v-2.6 M42.01 231.30 v-2.6 M51.65 231.30 v-2.6 M61.29 231.30 v-4.1 M70.93 231.30 v-2.6 M80.57 231.30 v-2.6 M90.20 231.30 v-2.6 M99.84 231.30 v-2.6 M109.48 231.30 v-4.1 M119.12 231.30 v-2.6 M128.76 231.30 v-2.6 M138.39 231.30 v-2.6 M148.03 231.30 v-2.6 M157.67 231.30 v-4.1 M167.31 231.30 v-2.6 M176.95 231.30 v-2.6 M186.58 231.30 v-2.6 M196.22 231.30 v-2.6 M205.86 231.30 v-4.1 M215.50 231.30 v-2.6 M225.14 231.30 v-2.6 M234.77 231.30 v-2.6 M244.41 231.30 v-2.6 M254.05 231.30 v-4.1 M263.69 231.30 v-2.6 M273.33 231.30 v-2.6 M282.96 231.30 v-2.6 M292.60 231.30 v-2.6 M302.24 231.30 v-4.1 M311.88 231.30 v-2.6 M321.52 231.30 v-2.6 M331.15 231.30 v-2.6 M340.79 231.30 v-2.6 M350.43 231.30 v-4.1" stroke-width="0.65"/>
<path d="M13.10 220.60 h2.6 M13.10 209.70 h2.6 M13.10 198.80 h2.6 M13.10 187.90 h4.1 M13.10 177.00 h2.6 M13.10 166.10 h2.6 M13.10 155.20 h2.6 M13.10 144.30 h4.1 M13.10 133.40 h2.6 M13.10 122.50 h2.6 M13.10 111.60 h2.6 M13.10 100.70 h4.1 M13.10 89.80 h2.6 M13.10 78.90 h2.6 M13.10 68.00 h2.6 M13.10 57.10 h4.1 M13.10 46.20 h2.6 M13.10 35.30 h2.6" stroke-width="0.65"/>
</g>
<g transform="translate(14.30 6.60)" fill="none" stroke="#000" stroke-linecap="round" stroke-linejoin="round"><path d="M0.2 1.4 Q0.9 0.1 2.0 0.1 L6.9 -0.1" stroke-width="1.0"/><path d="M3.9 0.3 L2.4 4.8 Q2.1 6.2 3.9 5.5" stroke-width="1.25"/></g>
<g transform="translate(365.60 229.60)" fill="none" stroke="#000" stroke-linecap="round" stroke-linejoin="round"><path d="M0.2 1.4 Q0.9 0.1 2.0 0.1 L6.9 -0.1" stroke-width="1.0"/><path d="M3.9 0.3 L2.4 4.8 Q2.1 6.2 3.9 5.5" stroke-width="1.25"/></g>
</svg>
<div class="xl" style="left:41.5px">100</div>
<div class="xl" style="left:89.7px">200</div>
<div class="xl" style="left:137.9px">300</div>
<div class="xl" style="left:186.1px">400</div>
<div class="xl" style="left:234.2px">500</div>
<div class="xl" style="left:282.4px">600</div>
<div class="xl" style="left:330.6px">700</div>
<div class="yl" style="top:181.8px">2</div>
<div class="yl" style="top:138.2px">4</div>
<div class="yl" style="top:94.6px">6</div>
<div class="yl" style="top:51.0px">8</div>
<div class="t it" style="left:0.4px;top:-0.3px;font-size:15.2px;">&#981;</div>
<div class="t" style="left:8.9px;top:-0.1px;font-size:14.4px;">(</div>
<div class="t" style="left:21.6px;top:-0.1px;font-size:14.4px;">)</div>
</body></html>
